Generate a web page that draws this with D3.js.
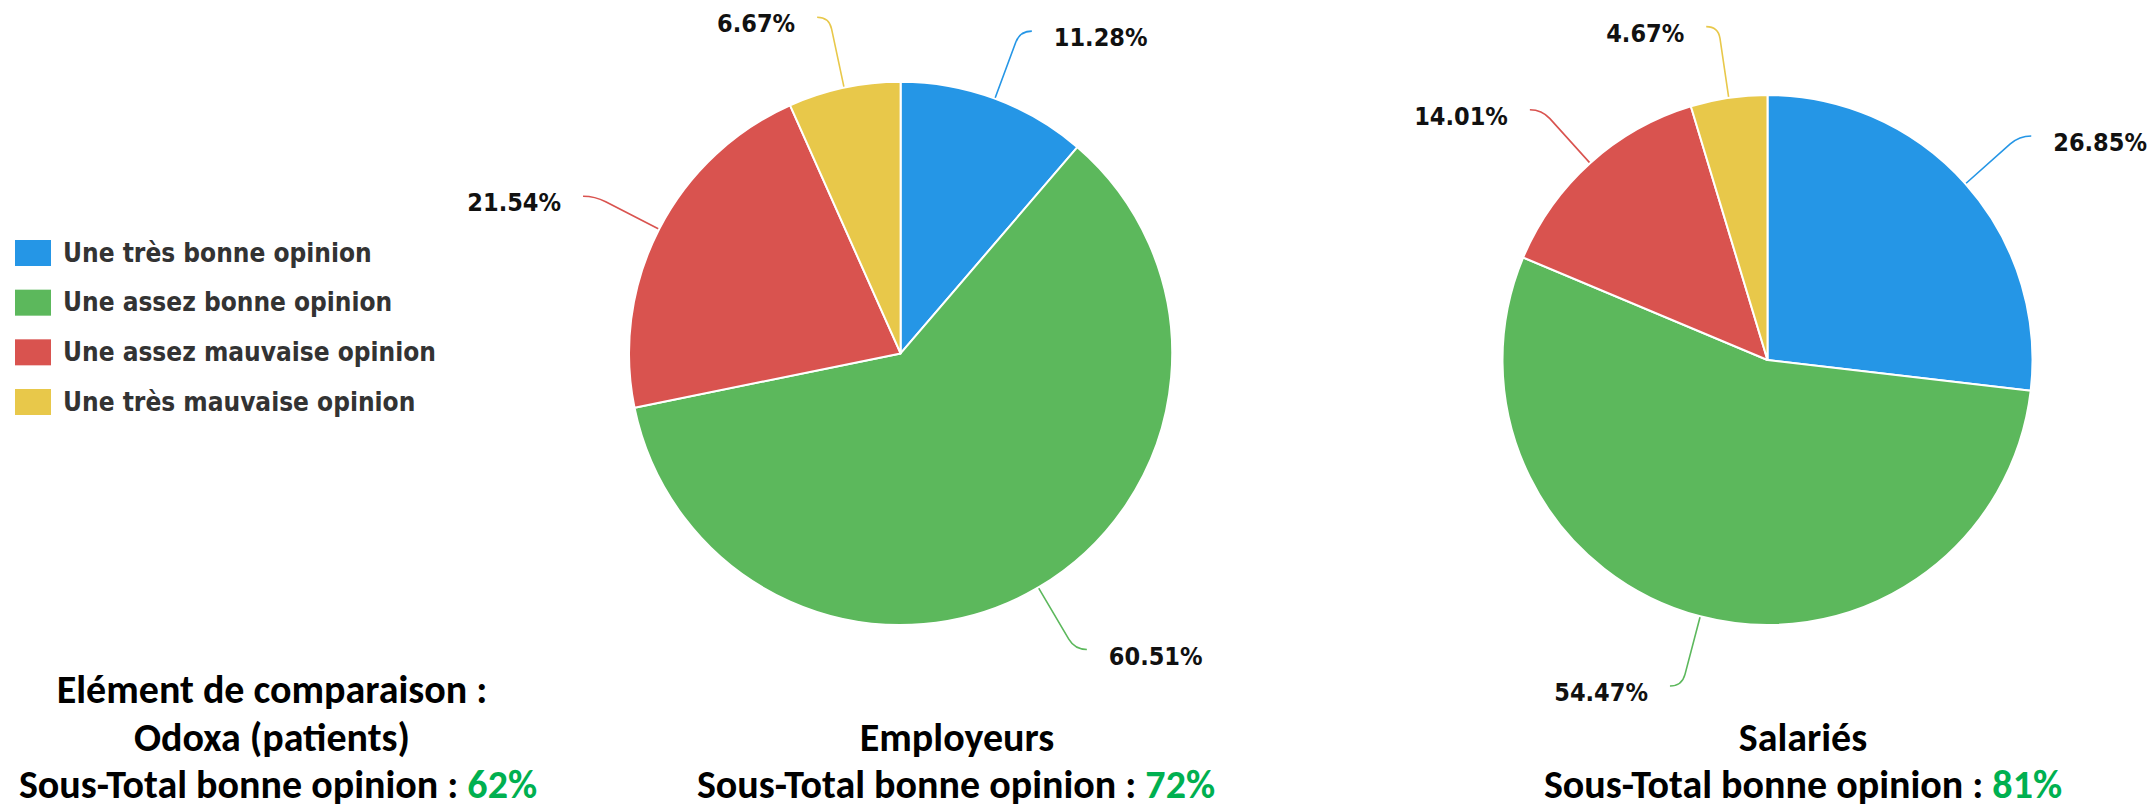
<!DOCTYPE html>
<html><head><meta charset="utf-8">
<script src="https://cdn.jsdelivr.net/npm/d3@7"></script>
<style>body{margin:0;background:#fff} svg{display:block}</style>
</head><body><svg id="c" width="2156" height="808"></svg>
<script>
// ---- data ----
const categories = ["Une très bonne opinion","Une assez bonne opinion","Une assez mauvaise opinion","Une très mauvaise opinion"];
const colors = ["#2596E6","#5CB85C","#D9534F","#E8C84A"];
const employeurs = [11.28, 60.51, 21.54, 6.67];
const salaries = [26.85, 54.47, 14.01, 4.67];
const groupNames = ["Employeurs","Salariés"];
const comparisonLines = ["Elément de comparaison :","Odoxa (patients)"];
const subtotalLabel = "Sous-Total bonne opinion : ";
const subtotals = ["62%","72%","81%"];

// ---- layout ----
const svg = d3.select("#c");
const pies = [
  {values: employeurs, cx: 900.6, cy: 353.4, r: 271.6},
  {values: salaries,   cx: 1767.5, cy: 360, r: 265}
];
const color = d3.scaleOrdinal().domain(categories).range(colors);
const pie = d3.pie().sort(null).value(d => d.v);
const fmt = d3.format(".2f");
const labelFont = '"DejaVu Sans Condensed","DejaVu Sans",sans-serif';

pies.forEach(p => {
  const data = p.values.map((v,i) => ({v, cat: categories[i]}));
  const arcs = pie(data);
  const arc = d3.arc().innerRadius(0).outerRadius(p.r);
  const g = svg.append("g").attr("transform", `translate(${p.cx},${p.cy})`);
  arcs.forEach(a => {
    const mid = (a.startAngle + a.endAngle) / 2;
    const dx = Math.sin(mid), dy = -Math.cos(mid);
    const side = dx >= 0 ? 1 : -1;
    const r0 = p.r - 4, r1 = p.r + 60, r2 = p.r + 72;
    const p1 = [dx*r1, dy*r1], p2 = [dx*r2, dy*r2];
    const p3 = [p2[0] + side*12, p2[1]];
    g.append("path")
      .attr("d", `M${dx*r0},${dy*r0}L${p1[0]},${p1[1]}Q${p2[0]},${p2[1]} ${p3[0]},${p3[1]}`)
      .attr("fill","none").attr("stroke", color(a.data.cat)).attr("stroke-width", 1.6);
    g.append("text")
      .attr("x", p3[0] + side*22).attr("y", p3[1] + 8)
      .attr("text-anchor", side > 0 ? "start" : "end")
      .attr("dominant-baseline","middle")
      .style("font-family", labelFont).style("font-stretch","condensed")
      .style("font-weight","bold").style("font-size","25px").attr("fill","#111")
      .text(fmt(a.data.v) + "%");
  });
  g.selectAll("path.slice").data(arcs).join("path").attr("class","slice")
    .attr("d", arc).attr("fill", d => color(d.data.cat))
    .attr("stroke","#fff").attr("stroke-width",2).attr("stroke-linejoin","round");
});

// ---- legend ----
const leg = svg.append("g").attr("transform","translate(15,253)");
const rowY = d3.scalePoint().domain(categories).range([0, 149]);
categories.forEach(c => {
  const y = rowY(c);
  leg.append("rect").attr("x",0).attr("y",y-13).attr("width",36).attr("height",26).attr("fill",color(c));
  leg.append("text").attr("x",48).attr("y",y+1).attr("dominant-baseline","middle")
    .style("font-family", labelFont).style("font-stretch","condensed")
    .style("font-weight","bold").style("font-size","26px").attr("fill","#333").text(c);
});

// ---- bottom captions ----
const capFont = 'Carlito, Lato, "Open Sans", sans-serif';
function caption(x, y, txt, pct){
  const t = svg.append("text").attr("x",x).attr("y",y).attr("text-anchor","middle")
    .style("font-family",capFont).style("font-weight","bold").style("font-size","40px").attr("fill","#000");
  t.append("tspan").text(txt);
  if (pct) t.append("tspan").attr("fill","#00B050").text(pct);
}
caption(272, 703, comparisonLines[0]);
caption(272, 751, comparisonLines[1]);
caption(278, 798, subtotalLabel, subtotals[0]);
caption(957, 751, groupNames[0]);
caption(956, 798, subtotalLabel, subtotals[1]);
caption(1803, 751, groupNames[1]);
caption(1803, 798, subtotalLabel, subtotals[2]);
</script></body></html>
